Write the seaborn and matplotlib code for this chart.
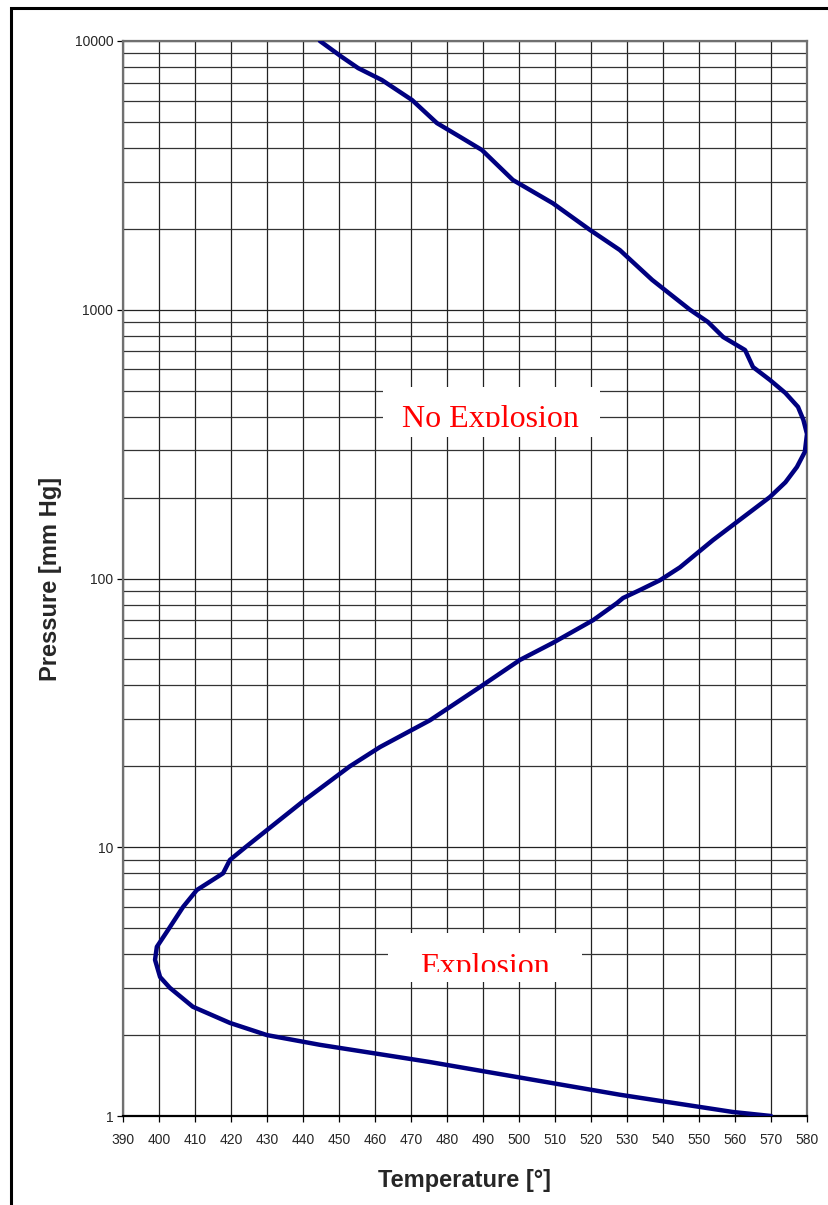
import matplotlib
matplotlib.use("Agg")
import matplotlib.pyplot as plt
import matplotlib.ticker as mticker
from matplotlib.patches import Rectangle
import numpy as np
import pandas as pd
import seaborn as sns

# explosion limit curve (top -> bottom along the curve)
temperature = [444.7, 450.8, 455.3, 461.9, 470.3, 477.2, 483.6, 489.7, 498.3, 509.4,
               519.7, 528.0, 537.0, 547.5, 552.5, 556.7, 562.8, 565.0, 569.7, 574.0,
               577.5, 579.0, 580.0, 579.4, 577.2, 574.0, 569.7, 553.9, 544.7, 539.2,
               533.6, 528.9, 527.2, 520.6, 509.4, 500.3, 489.2, 475.3, 461.4, 453.0,
               440.5, 424.0, 419.7, 417.8, 410.5, 406.7, 402.5, 399.4, 398.9, 400.3,
               403.0, 409.4, 419.7, 430.0, 444.7, 475.0, 528.0, 559.4, 570.0]
pressure = [10000, 8720, 7930, 7160, 6030, 4950, 4400, 3930, 3040, 2490,
            1982, 1668, 1291, 1000, 900, 792, 708, 612, 548, 490,
            435, 389, 345, 296, 260, 228, 201, 139, 110, 98.6,
            90.6, 84.6, 81, 70, 57.6, 49.8, 39.5, 29.7, 23.6, 20,
            15, 10, 8.97, 8.0, 6.93, 6.0, 4.92, 4.26, 3.81, 3.29,
            3.0, 2.55, 2.22, 2.0, 1.84, 1.59, 1.2, 1.035, 1.0]

x_ticks = list(range(390, 581, 10))
y_ticks = [1, 10, 100, 1000, 10000]

df = pd.DataFrame({"T": temperature, "P": pressure})

sns.set_style("white")
plt.rcParams["font.family"] = ["Liberation Sans", "DejaVu Sans"]

fig = plt.figure(figsize=(8.29, 12.05), dpi=100)
ax = fig.add_axes([123 / 829, 1 - 1116 / 1205, 684 / 829, 1075 / 1205])

ax.set_yscale("log")
ax.set_xlim(390, 580)
ax.set_ylim(1, 10000)

# grid
ax.set_xticks(x_ticks)
ax.yaxis.set_major_locator(mticker.FixedLocator(y_ticks))
ax.yaxis.set_minor_locator(mticker.LogLocator(base=10, subs=np.arange(2, 10)))
ax.yaxis.set_major_formatter(mticker.FuncFormatter(lambda v, p: f"{v:g}"))
ax.yaxis.set_minor_formatter(mticker.NullFormatter())
ax.grid(True, which="major", color="#222222", lw=0.9)
ax.grid(True, which="minor", axis="y", color="#333333", lw=0.9)
ax.set_axisbelow(True)

sns.lineplot(data=df, x="T", y="P", sort=False, estimator=None,
             color="#000080", lw=3.2, ax=ax, zorder=3)

ax.tick_params(axis="both", which="major", direction="out", length=4, width=0.9,
               color="black", labelsize=10, pad=3, bottom=True, left=True)
ax.tick_params(axis="x", pad=8)
ax.tick_params(axis="y", which="minor", length=0)

for s in ["top", "right", "left"]:
    ax.spines[s].set_color("#707070")
    ax.spines[s].set_linewidth(1.6)
ax.spines["bottom"].set_color("black")
ax.spines["bottom"].set_linewidth(1.6)

ax.set_xlabel("Temperature [°]", fontsize=17, fontweight="bold", labelpad=16)
ax.set_ylabel("Pressure [mm Hg]", fontsize=17, fontweight="bold", labelpad=9)

# text boxes, clipped like the original
def boxed_label(text, box, clip_bottom, xc, baseline):
    x0, x1, y0, y1 = box
    ax.add_patch(Rectangle((x0, y0), x1 - x0, y1 - y0, transform=ax.transAxes,
                           facecolor="white", edgecolor="none", zorder=4))
    t = ax.text(xc, baseline, text, transform=ax.transAxes, ha="center",
                va="baseline", color="red", fontsize=23,
                family=["Liberation Serif", "DejaVu Serif"], zorder=5)
    clip = Rectangle((x0, clip_bottom), x1 - x0, y1 - clip_bottom,
                     transform=ax.transAxes, facecolor="none", edgecolor="none")
    ax.add_artist(clip)
    clip.set_visible(False)
    t.set_clip_path(clip)
    t.set_clip_on(True)

boxed_label("No Explosion", (0.380, 0.697, 0.6316, 0.678), 0.641, 0.537, 0.641)
boxed_label("Explosion", (0.387, 0.671, 0.1247, 0.1702), 0.1340, 0.529, 0.1313)

# outer frame of the chart area
fig.add_artist(Rectangle((11 / 829, -0.05), 1.2, 1 - 8 / 1205 + 0.05,
                         transform=fig.transFigure, fill=False,
                         edgecolor="black", lw=2.2))

fig.savefig("out.png", dpi=100)
